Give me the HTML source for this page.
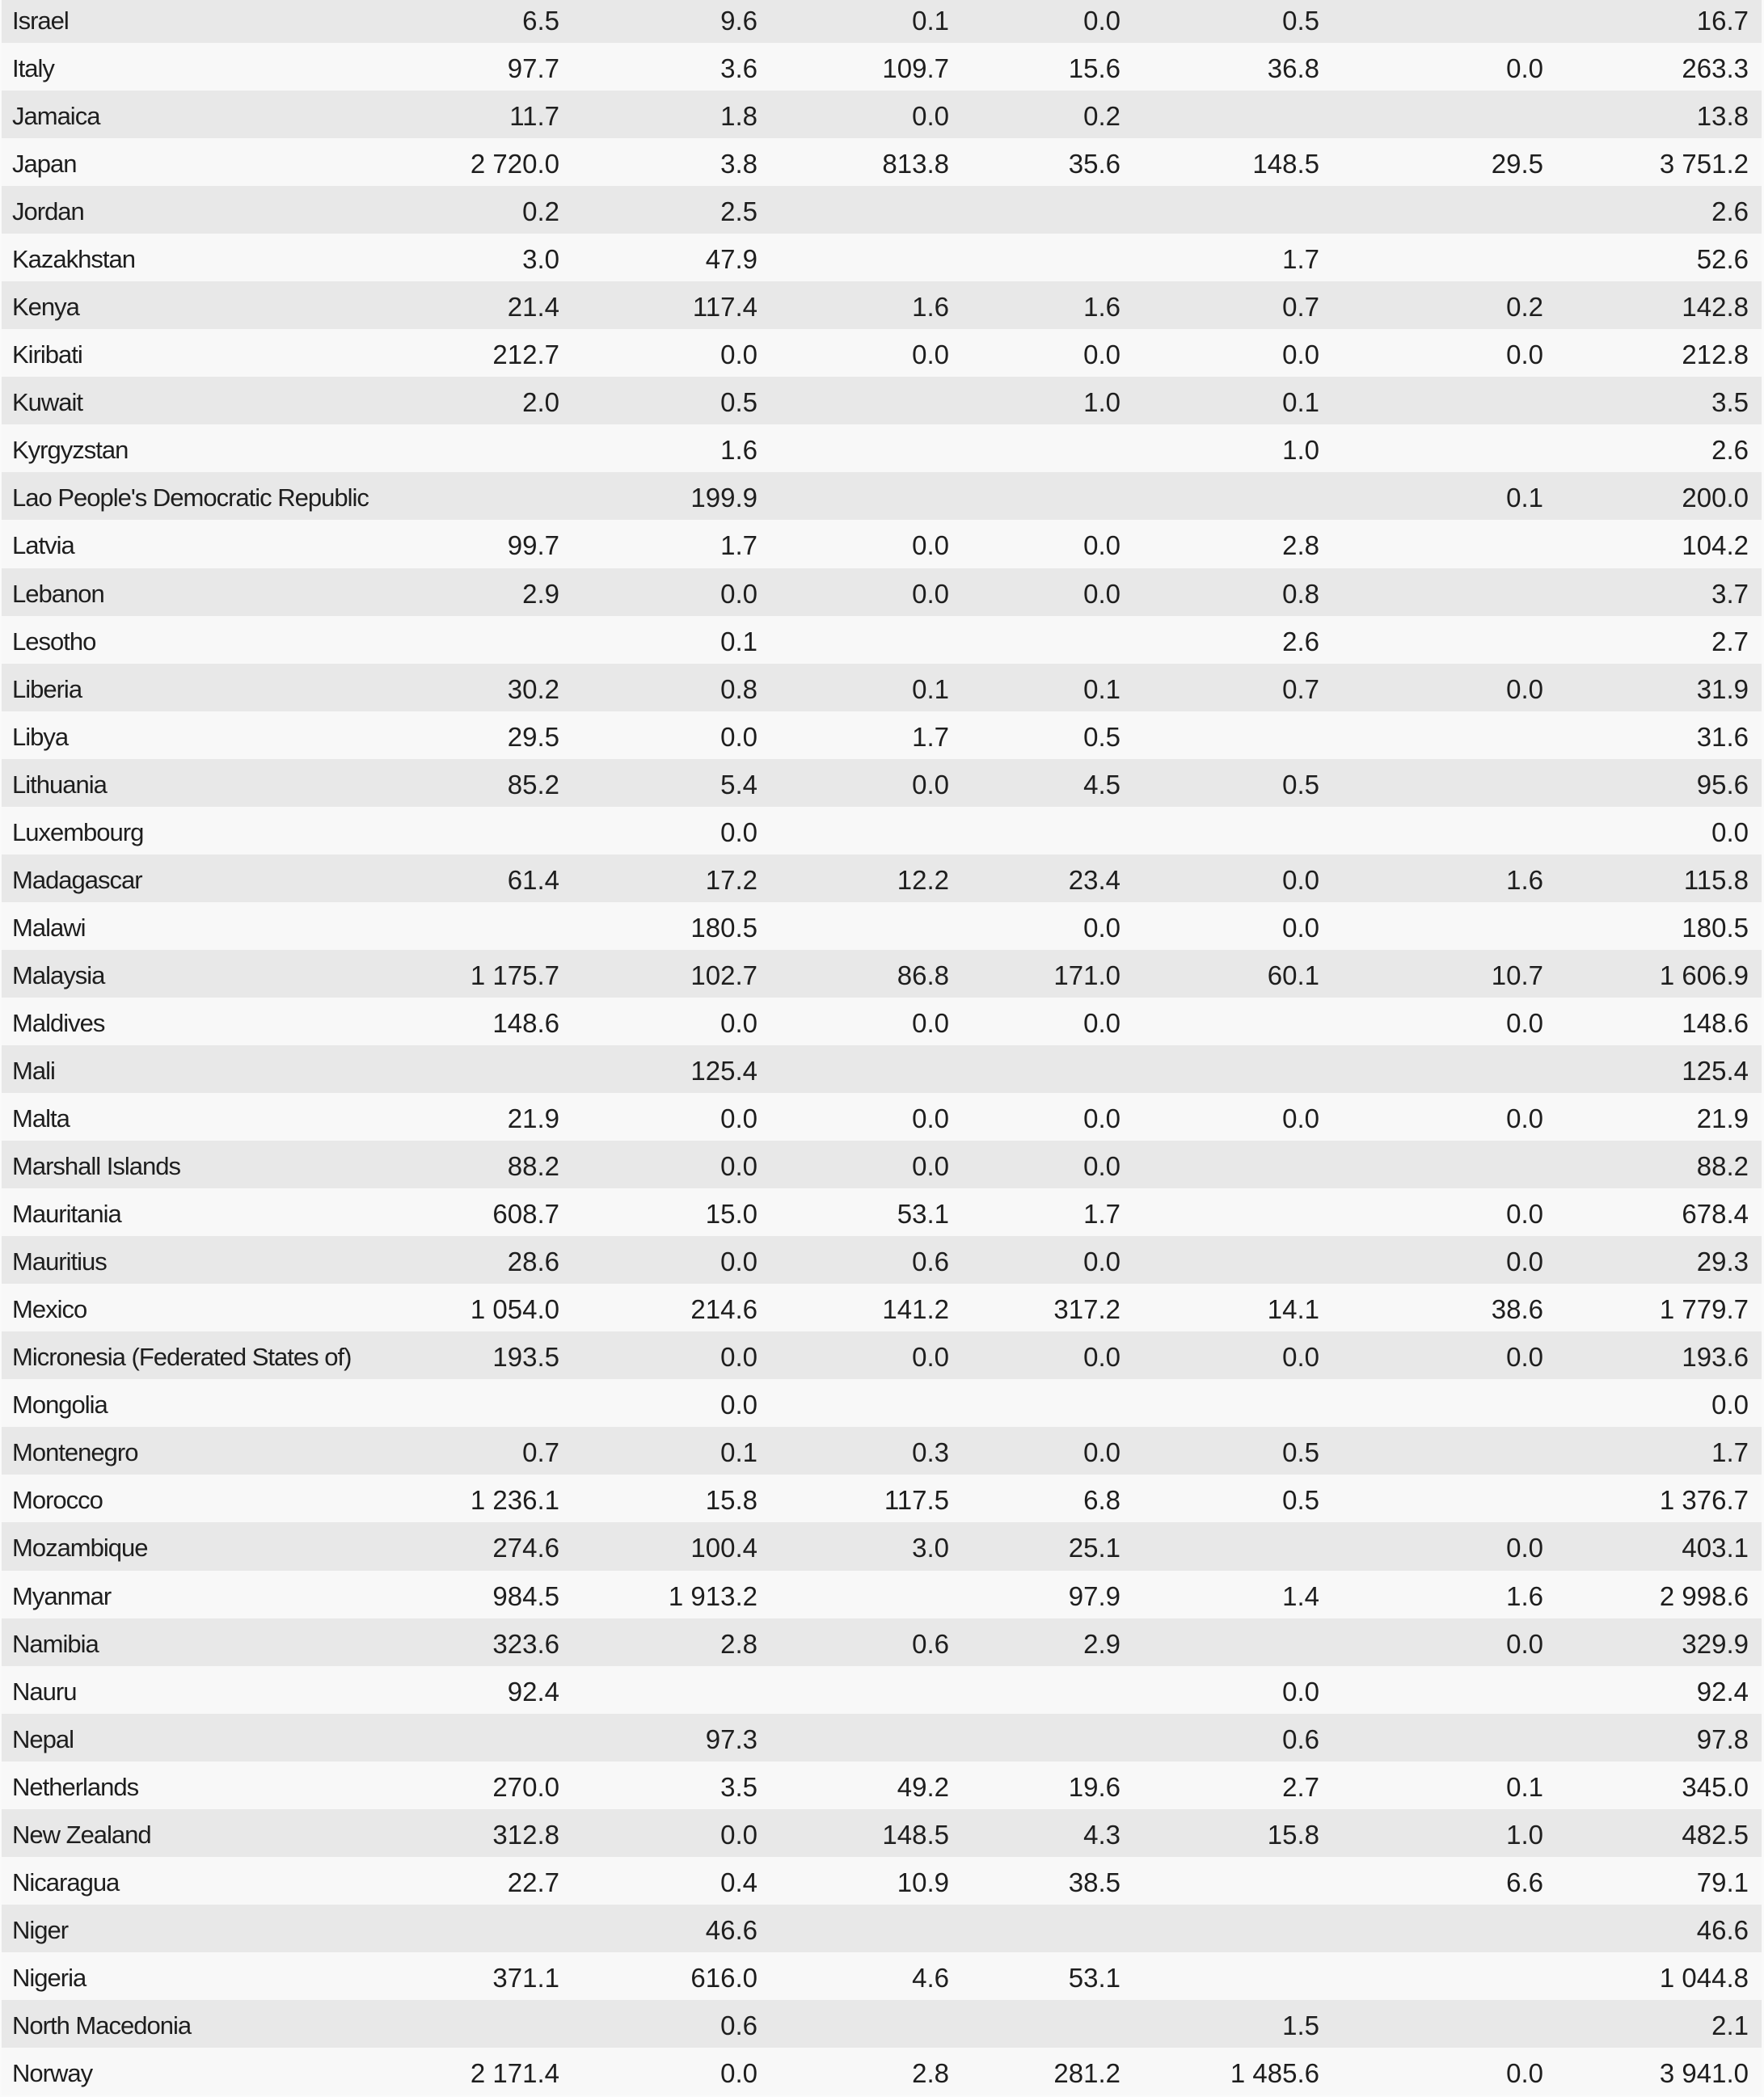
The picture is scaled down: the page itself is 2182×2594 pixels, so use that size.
<!DOCTYPE html>
<html>
<head>
<meta charset="utf-8">
<style>
html,body{margin:0;padding:0;}
body{width:2182px;height:2593px;overflow:hidden;background:#fafafa;position:relative;
font-family:"Liberation Sans","DejaVu Sans",sans-serif;color:#1e1e1e;}
#t{position:absolute;left:0;top:-6.05px;width:2182px;}
.r{position:relative;height:59.05px;width:2182px;box-sizing:border-box;padding:0 3px 0 2px;background-clip:content-box;background-color:#f8f8f8;}
.r:nth-child(odd){background-color:#e8e8e8;}
.r span{position:absolute;top:2px;line-height:59px;white-space:nowrap;font-size:33px;}
.r span.l{left:15px;font-size:31px;letter-spacing:-1px;}
.r span:nth-child(2){right:1490px;}
.r span:nth-child(3){right:1245px;}
.r span:nth-child(4){right:1008px;}
.r span:nth-child(5){right:796px;}
.r span:nth-child(6){right:550px;}
.r span:nth-child(7){right:273px;}
.r span:nth-child(8){right:19px;}
</style>
</head>
<body>
<div id="t">
<div class="r"><span class="l">Israel</span><span>6.5</span><span>9.6</span><span>0.1</span><span>0.0</span><span>0.5</span><span></span><span>16.7</span></div>
<div class="r"><span class="l">Italy</span><span>97.7</span><span>3.6</span><span>109.7</span><span>15.6</span><span>36.8</span><span>0.0</span><span>263.3</span></div>
<div class="r"><span class="l">Jamaica</span><span>11.7</span><span>1.8</span><span>0.0</span><span>0.2</span><span></span><span></span><span>13.8</span></div>
<div class="r"><span class="l">Japan</span><span>2 720.0</span><span>3.8</span><span>813.8</span><span>35.6</span><span>148.5</span><span>29.5</span><span>3 751.2</span></div>
<div class="r"><span class="l">Jordan</span><span>0.2</span><span>2.5</span><span></span><span></span><span></span><span></span><span>2.6</span></div>
<div class="r"><span class="l">Kazakhstan</span><span>3.0</span><span>47.9</span><span></span><span></span><span>1.7</span><span></span><span>52.6</span></div>
<div class="r"><span class="l">Kenya</span><span>21.4</span><span>117.4</span><span>1.6</span><span>1.6</span><span>0.7</span><span>0.2</span><span>142.8</span></div>
<div class="r"><span class="l">Kiribati</span><span>212.7</span><span>0.0</span><span>0.0</span><span>0.0</span><span>0.0</span><span>0.0</span><span>212.8</span></div>
<div class="r"><span class="l">Kuwait</span><span>2.0</span><span>0.5</span><span></span><span>1.0</span><span>0.1</span><span></span><span>3.5</span></div>
<div class="r"><span class="l">Kyrgyzstan</span><span></span><span>1.6</span><span></span><span></span><span>1.0</span><span></span><span>2.6</span></div>
<div class="r"><span class="l">Lao People's Democratic Republic</span><span></span><span>199.9</span><span></span><span></span><span></span><span>0.1</span><span>200.0</span></div>
<div class="r"><span class="l">Latvia</span><span>99.7</span><span>1.7</span><span>0.0</span><span>0.0</span><span>2.8</span><span></span><span>104.2</span></div>
<div class="r"><span class="l">Lebanon</span><span>2.9</span><span>0.0</span><span>0.0</span><span>0.0</span><span>0.8</span><span></span><span>3.7</span></div>
<div class="r"><span class="l">Lesotho</span><span></span><span>0.1</span><span></span><span></span><span>2.6</span><span></span><span>2.7</span></div>
<div class="r"><span class="l">Liberia</span><span>30.2</span><span>0.8</span><span>0.1</span><span>0.1</span><span>0.7</span><span>0.0</span><span>31.9</span></div>
<div class="r"><span class="l">Libya</span><span>29.5</span><span>0.0</span><span>1.7</span><span>0.5</span><span></span><span></span><span>31.6</span></div>
<div class="r"><span class="l">Lithuania</span><span>85.2</span><span>5.4</span><span>0.0</span><span>4.5</span><span>0.5</span><span></span><span>95.6</span></div>
<div class="r"><span class="l">Luxembourg</span><span></span><span>0.0</span><span></span><span></span><span></span><span></span><span>0.0</span></div>
<div class="r"><span class="l">Madagascar</span><span>61.4</span><span>17.2</span><span>12.2</span><span>23.4</span><span>0.0</span><span>1.6</span><span>115.8</span></div>
<div class="r"><span class="l">Malawi</span><span></span><span>180.5</span><span></span><span>0.0</span><span>0.0</span><span></span><span>180.5</span></div>
<div class="r"><span class="l">Malaysia</span><span>1 175.7</span><span>102.7</span><span>86.8</span><span>171.0</span><span>60.1</span><span>10.7</span><span>1 606.9</span></div>
<div class="r"><span class="l">Maldives</span><span>148.6</span><span>0.0</span><span>0.0</span><span>0.0</span><span></span><span>0.0</span><span>148.6</span></div>
<div class="r"><span class="l">Mali</span><span></span><span>125.4</span><span></span><span></span><span></span><span></span><span>125.4</span></div>
<div class="r"><span class="l">Malta</span><span>21.9</span><span>0.0</span><span>0.0</span><span>0.0</span><span>0.0</span><span>0.0</span><span>21.9</span></div>
<div class="r"><span class="l">Marshall Islands</span><span>88.2</span><span>0.0</span><span>0.0</span><span>0.0</span><span></span><span></span><span>88.2</span></div>
<div class="r"><span class="l">Mauritania</span><span>608.7</span><span>15.0</span><span>53.1</span><span>1.7</span><span></span><span>0.0</span><span>678.4</span></div>
<div class="r"><span class="l">Mauritius</span><span>28.6</span><span>0.0</span><span>0.6</span><span>0.0</span><span></span><span>0.0</span><span>29.3</span></div>
<div class="r"><span class="l">Mexico</span><span>1 054.0</span><span>214.6</span><span>141.2</span><span>317.2</span><span>14.1</span><span>38.6</span><span>1 779.7</span></div>
<div class="r"><span class="l">Micronesia (Federated States of)</span><span>193.5</span><span>0.0</span><span>0.0</span><span>0.0</span><span>0.0</span><span>0.0</span><span>193.6</span></div>
<div class="r"><span class="l">Mongolia</span><span></span><span>0.0</span><span></span><span></span><span></span><span></span><span>0.0</span></div>
<div class="r"><span class="l">Montenegro</span><span>0.7</span><span>0.1</span><span>0.3</span><span>0.0</span><span>0.5</span><span></span><span>1.7</span></div>
<div class="r"><span class="l">Morocco</span><span>1 236.1</span><span>15.8</span><span>117.5</span><span>6.8</span><span>0.5</span><span></span><span>1 376.7</span></div>
<div class="r"><span class="l">Mozambique</span><span>274.6</span><span>100.4</span><span>3.0</span><span>25.1</span><span></span><span>0.0</span><span>403.1</span></div>
<div class="r"><span class="l">Myanmar</span><span>984.5</span><span>1 913.2</span><span></span><span>97.9</span><span>1.4</span><span>1.6</span><span>2 998.6</span></div>
<div class="r"><span class="l">Namibia</span><span>323.6</span><span>2.8</span><span>0.6</span><span>2.9</span><span></span><span>0.0</span><span>329.9</span></div>
<div class="r"><span class="l">Nauru</span><span>92.4</span><span></span><span></span><span></span><span>0.0</span><span></span><span>92.4</span></div>
<div class="r"><span class="l">Nepal</span><span></span><span>97.3</span><span></span><span></span><span>0.6</span><span></span><span>97.8</span></div>
<div class="r"><span class="l">Netherlands</span><span>270.0</span><span>3.5</span><span>49.2</span><span>19.6</span><span>2.7</span><span>0.1</span><span>345.0</span></div>
<div class="r"><span class="l">New Zealand</span><span>312.8</span><span>0.0</span><span>148.5</span><span>4.3</span><span>15.8</span><span>1.0</span><span>482.5</span></div>
<div class="r"><span class="l">Nicaragua</span><span>22.7</span><span>0.4</span><span>10.9</span><span>38.5</span><span></span><span>6.6</span><span>79.1</span></div>
<div class="r"><span class="l">Niger</span><span></span><span>46.6</span><span></span><span></span><span></span><span></span><span>46.6</span></div>
<div class="r"><span class="l">Nigeria</span><span>371.1</span><span>616.0</span><span>4.6</span><span>53.1</span><span></span><span></span><span>1 044.8</span></div>
<div class="r"><span class="l">North Macedonia</span><span></span><span>0.6</span><span></span><span></span><span>1.5</span><span></span><span>2.1</span></div>
<div class="r"><span class="l">Norway</span><span>2 171.4</span><span>0.0</span><span>2.8</span><span>281.2</span><span>1 485.6</span><span>0.0</span><span>3 941.0</span></div>
</div>
</body>
</html>
